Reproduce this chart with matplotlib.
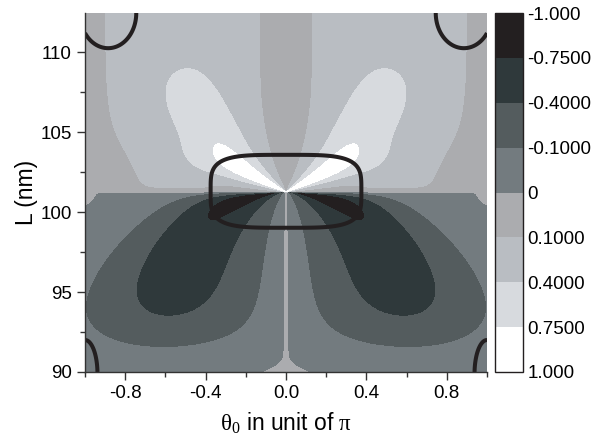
import numpy as np
import matplotlib
matplotlib.use("Agg")
import matplotlib.pyplot as plt
from matplotlib.ticker import MultipleLocator

plt.rcParams['font.family'] = ['Liberation Sans', 'DejaVu Sans']
plt.rcParams['mathtext.fontset'] = 'custom'
plt.rcParams['mathtext.rm'] = 'Liberation Serif'
plt.rcParams['mathtext.it'] = 'Liberation Serif:italic'

# contour levels, their labels and fill colours
levels = [-1.0, -0.75, -0.4, -0.1, 0.0, 0.1, 0.4, 0.75, 1.0]
level_labels = ["-1.000", "-0.7500", "-0.4000", "-0.1000", "0",
                "0.1000", "0.4000", "0.7500", "1.000"]
fill_colors = ["#231f20", "#2f393b", "#545c5e", "#737b7f",
               "#abacaf", "#b9bdc2", "#d7dade", "#ffffff"]

theta_ticks = [-0.8, -0.4, 0.0, 0.4, 0.8]
L_ticks = [90, 95, 100, 105, 110]
theta_range = (-1.0, 1.0)
L_range = (90.0, 112.45)

# field model: resonance length and shape parameters
L_res = 101.25
up_b_max, up_b_width, up_b_pow = 0.40, 3.27, 1.5
up_tail_w, up_tail_theta, up_tail_pow = 0.42, 0.85, 3.0
up_core_w, up_core_theta, up_core_L = 0.55, 0.50, 4.6
up_lobe_amp, up_lobe_theta, up_lobe_L = 0.29, 0.43, 106.3
up_lobe_len, up_lobe_wid, up_lobe_ang = 0.21, 0.12, 45.0
up_edge_w, up_edge_theta, up_edge_width = 0.13, 0.56, 0.20
low_b_w0, low_b_k = 4.0, 0.5
low_core_w, low_core_theta0, low_core_gain, low_core_pow = 0.75, 0.40, 0.44, 4.3
low_tail_w, low_tail_theta0, low_tail_slope, low_tail_pow = 0.25, 0.60, 0.047, 3.0
low_env_L, low_env_L_pow = 8.95, 6.7
nm_per_theta = 12.6

# closed boundary curves (superellipses): centre theta, centre L, half widths, power
loop_theta = [0.0, -0.885, 0.885, -1.0, 1.0]
loop_L = [101.3, 112.45, 112.45, 89.9, 89.9]
loop_half_theta = [0.375, 0.14, 0.14, 0.062, 0.062]
loop_half_L = [2.28, 2.2, 2.2, 2.1, 2.1]
loop_power = [4, 2, 2, 2, 2]

theta = np.linspace(theta_range[0], theta_range[1], 801)
L = np.linspace(L_range[0], L_range[1], 700)
T, LL = np.meshgrid(theta, L)
X = np.abs(T)
d = np.clip(LL - L_res, 0, None)
e = np.clip(L_res - LL, 0, None)

a = X ** 1.5
b_up = up_b_max * (1.0 - np.exp(-(d / up_b_width) ** up_b_pow))
b_low = e / (low_b_w0 + low_b_k * e)


def fan(a, b):
    return 2 * a * b / (a ** 2 + b ** 2 + 1e-12)


# upper half: broad background, bright sliver near the centre, tilted lobe
fan_up = fan(a, b_up)
tail_up = up_tail_w * np.exp(-(X / up_tail_theta) ** up_tail_pow)
core_up = up_core_w * np.exp(-((X / up_core_theta) ** 2 + (d / up_core_L) ** 2) ** 2)
ang = np.deg2rad(up_lobe_ang)
du = X - up_lobe_theta
dv = (LL - up_lobe_L) / nm_per_theta
s_ax = du * np.cos(ang) + dv * np.sin(ang)
n_ax = -du * np.sin(ang) + dv * np.cos(ang)
lobe_up = up_lobe_amp * np.exp(-(s_ax / up_lobe_len) ** 2 - (n_ax / up_lobe_wid) ** 2)
f_up = fan_up * tail_up + fan_up ** 3 * core_up + lobe_up * fan_up
f_up += (up_edge_w * np.exp(-((X - up_edge_theta) / up_edge_width) ** 4)
         * (1 - np.exp(-d / 0.25)) * np.exp(-(d / 2.5) ** 2))

# lower half
core_theta = low_core_theta0 + low_core_gain * np.tanh(e / 5.0)
tail_theta = low_tail_theta0 + low_tail_slope * e
E_low = (low_core_w * np.exp(-(X / core_theta) ** low_core_pow)
         + low_tail_w * np.exp(-(X / tail_theta) ** low_tail_pow))
E_low *= np.exp(-(e / low_env_L) ** low_env_L_pow)
f_low = -fan(a, b_low) * E_low
f_low += 0.003 * np.exp(-(X / 0.006) ** 2)
f_low += 0.0006 * np.exp(-((LL - L_range[0]) / 0.8) ** 2)
f_low += 0.01 * np.exp(-((1 - X) / 0.03) ** 2) * np.exp(-(e / 0.6) ** 2)

F = np.where(LL >= L_res, f_up, f_low) + 1e-6
F = np.clip(F, -0.999, 0.999)

G = np.full_like(T, np.inf)
for tc, lc, ht, hl, p in zip(loop_theta, loop_L, loop_half_theta, loop_half_L, loop_power):
    g = (np.abs(T - tc) / ht) ** p + (np.abs(LL - lc) / hl) ** p
    G = np.minimum(G, g)

fig = plt.figure(figsize=(5.92, 4.41), dpi=100)
ax = fig.add_axes([85 / 592, 1 - 372 / 441, 402 / 592, 359 / 441])
cax = fig.add_axes([495 / 592, 1 - 372 / 441, 28 / 592, 359 / 441])

cs = ax.contourf(T, LL, F, levels=levels, colors=fill_colors)
ax.contour(T, LL, G, levels=[1.0], colors="#231f20", linewidths=2.9)

ax.set_xlim(*theta_range)
ax.set_ylim(*L_range)
ax.set_xticks(theta_ticks)
ax.set_xticklabels([f"{v:.1f}" for v in theta_ticks])
ax.set_yticks(L_ticks)
ax.xaxis.set_minor_locator(MultipleLocator(0.2))
ax.yaxis.set_minor_locator(MultipleLocator(2.5))
ax.tick_params(which="major", direction="out", length=6, width=1, labelsize=13.5,
               color="#333333", top=False, right=False)
ax.tick_params(which="minor", direction="out", length=3.5, width=1,
               color="#333333", top=False, right=False)
for side in ("top", "right"):
    ax.spines[side].set_visible(False)
for side in ("left", "bottom"):
    ax.spines[side].set_color("#333333")
    ax.spines[side].set_linewidth(1)

ax.set_ylabel("L (nm)", fontsize=16.5, labelpad=2)
ax.set_xlabel(r"$\mathrm{\theta}_{\mathrm{0}}$ in unit of $\mathrm{\pi}$", fontsize=16.5, labelpad=6)

cb = fig.colorbar(cs, cax=cax, ticks=levels)
cax.invert_yaxis()
cax.set_yticklabels(level_labels)
cax.tick_params(length=0, labelsize=13.5, pad=3)
cb.outline.set_linewidth(1)
cb.outline.set_edgecolor("#231f20")

fig.savefig("out.png", dpi=100)
